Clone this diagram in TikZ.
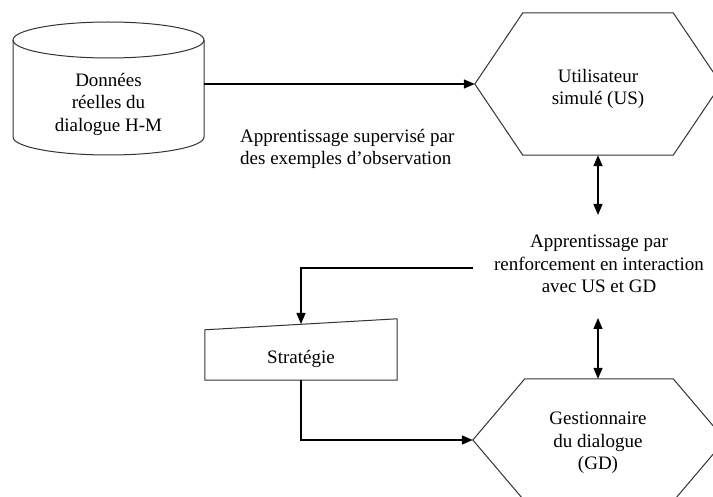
\documentclass[tikz,border=0pt]{standalone}
\usepackage{fontspec}
\setmainfont{Liberation Serif}
\usetikzlibrary{arrows.meta,calc}
\begin{document}
\begin{tikzpicture}[x=1pt,y=-1pt,
  txt/.style={font=\fontsize{19}{22.5}\selectfont, align=center, inner sep=0pt},
  frame/.style={inner sep=0pt, draw=none},
  outline/.style={draw=black!80, line width=1pt, line join=miter},
  conn/.style={draw=black, line width=1.4pt, -{Triangle[length=11pt,width=9pt]}},
  dbl/.style={draw=black, line width=1.4pt, {Triangle[length=11pt,width=9pt]}-{Triangle[length=11pt,width=9pt]}},
  plain/.style={draw=black, line width=1.4pt}]
\useasboundingbox[fill=white] (0,0) rectangle (713,497);

% database cylinder
\node[frame, minimum width=191pt, minimum height=135pt] (db) at (108.5,89.5) {};
\draw[outline] (108.5,40) ellipse [x radius=95.5pt, y radius=18pt];
\draw[outline] (13,40) -- (13,137) arc [start angle=180, end angle=360, x radius=95.5pt, y radius=18pt] -- (204,40);
\node[txt] (dbt) at (108.5,104) {Données\\réelles du\\dialogue H-M};

% simulated user hexagon
\node[frame, minimum width=246pt, minimum height=142pt] (us) at (598,84) {};
\draw[outline] (us.west) -- ([xshift=48pt]us.north west) -- ([xshift=-48pt]us.north east)
  -- (us.east) -- ([xshift=-48pt]us.south east) -- ([xshift=48pt]us.south west) -- cycle;
\node[txt] (ust) at (598,89) {Utilisateur\\simulé (US)};

% dialogue manager hexagon
\node[frame, minimum width=252pt, minimum height=122pt] (gd) at (599,440) {};
\draw[outline] (gd.west) -- ([xshift=52pt]gd.north west) -- ([xshift=-52pt]gd.north east)
  -- (gd.east) -- ([xshift=-52pt]gd.south east) -- ([xshift=52pt]gd.south west) -- cycle;
\node[txt] (gdt) at (598,443) {Gestionnaire\\du dialogue\\(GD)};

% strategy (manual input shape)
\node[frame, minimum width=192pt, minimum height=61pt] (st) at (301,349.5) {};
\draw[outline] ([yshift=-11pt]st.north west) -- (st.north east) -- (st.south east) -- (st.south west) -- cycle;
\node[txt] (stt) at (301,359) {Stratégie};
\coordinate (stin) at (301,324);

% labels
\node[txt, anchor=west, align=left] (sup) at (240,149) {Apprentissage supervisé par\\des exemples d'observation};
\node[txt] (rl) at (599,264) {Apprentissage par\\renforcement en interaction\\avec US et GD};

% connectors
\draw[conn] (db.east |- us.west) -- (us.west);
\draw[dbl] (us.south) -- (us.south |- 0,215);
\draw[dbl] (us.south |- 0,318) -- (us.south |- gd.north);
\coordinate (rlout) at (473,268);
\draw[conn] (rlout) -| (stin);
\draw[conn] (st.south) |- (gd.west);
\end{tikzpicture}
\end{document}
